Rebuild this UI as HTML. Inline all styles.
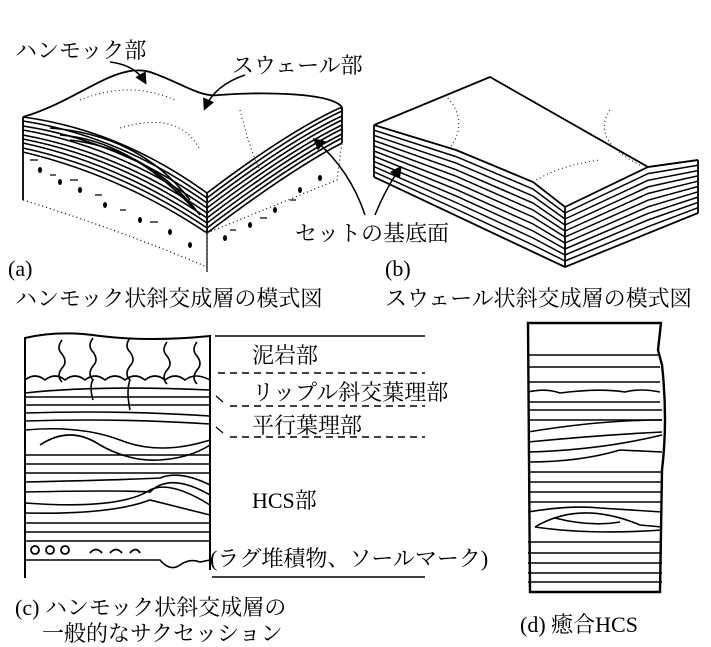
<!DOCTYPE html>
<html><head><meta charset="utf-8"><style>
html,body{margin:0;padding:0;background:#fff;}
svg{display:block;}
text{font-family:"Liberation Serif","Noto Serif CJK JP",serif;fill:#000;font-size:22px;}
</style></head><body>
<svg width="711" height="647" viewBox="0 0 711 647" xmlns="http://www.w3.org/2000/svg">
<defs><marker id="ah" markerWidth="8" markerHeight="8" refX="6" refY="4" orient="auto"><path d="M0,0 L8,4 L0,8 z" fill="#000"/></marker></defs>
<g fill="none" stroke="#000" stroke-width="1.8">
<!-- Block A lower dotted part -->
<path d="M23,152 L23,200 Q120,230 207,267 L207,233" stroke-dasharray="1,3" stroke-width="1.2"/>
<path d="M207,233 L337,180 L342,143" stroke-dasharray="1,3" stroke-width="1.2"/>
<line x1="207" y1="233" x2="207" y2="272" stroke-width="1.2"/>
<g fill="#000" stroke="none">
<ellipse cx="40" cy="170" rx="2" ry="3"/><ellipse cx="60" cy="182" rx="2" ry="3"/><ellipse cx="80" cy="190" rx="2" ry="3"/><ellipse cx="105" cy="205" rx="2" ry="3"/><ellipse cx="140" cy="220" rx="2" ry="3"/><ellipse cx="170" cy="232" rx="2" ry="3"/><ellipse cx="190" cy="245" rx="2" ry="3"/><ellipse cx="225" cy="238" rx="2" ry="3"/><ellipse cx="250" cy="225" rx="2" ry="3"/><ellipse cx="275" cy="210" rx="2" ry="3"/><ellipse cx="300" cy="190" rx="2" ry="3"/><ellipse cx="320" cy="178" rx="2" ry="3"/>
</g>
<path d="M30,160 h8 M50,175 h6 M70,180 h8 M95,195 h7 M120,210 h6 M150,222 h8 M230,230 h6 M260,218 h7 M290,200 h6" stroke-width="1.2"/>
<!-- Block A left face strata -->
<g stroke-width="1.6">
<path d="M23,117 Q120,130 207,193"/>
<path d="M23,121 Q120,136 207,198"/>
<path d="M23,126 Q120,141 207,203"/>
<path d="M23,130 Q120,147 207,208"/>
<path d="M23,135 Q120,153 207,213"/>
<path d="M23,139 Q120,158 207,218"/>
<path d="M23,143 Q120,164 207,223"/>
<path d="M23,148 Q120,169 207,228"/>
<path d="M23,152 Q120,175 207,233"/>
<path d="M60,135 Q130,140 195,210 M50,128 Q140,135 190,200 M70,140 Q150,150 200,215"/>
<path d="M207,193 Q290,130 342,107"/>
<path d="M207,198 Q290,135 342,111"/>
<path d="M207,203 Q290,140 342,116"/>
<path d="M207,208 Q290,145 342,120"/>
<path d="M207,213 Q290,150 342,125"/>
<path d="M207,218 Q290,155 342,129"/>
<path d="M207,223 Q290,160 342,134"/>
<path d="M207,228 Q290,165 342,138"/>
<path d="M207,233 Q290,170 342,143"/>
</g>
<line x1="23" y1="117" x2="23" y2="200"/>
<line x1="207" y1="193" x2="207" y2="233"/>
<line x1="342" y1="107" x2="342" y2="143"/>
<!-- Block A top surface -->
<path d="M23,117 C80,100 115,62 150,72 C180,82 200,98 219,95 C260,92 330,92 342,107" fill="#fff"/>
<path d="M80,100 Q130,80 175,100 M120,128 Q180,110 200,150 M240,110 Q250,150 260,170" stroke-dasharray="1,3" stroke-width="1"/>
<!-- arrows -->
<path d="M110,62 Q135,65 145,82" marker-end="url(#ah)" stroke-width="1.5"/>
<path d="M245,75 Q215,85 205,108" marker-end="url(#ah)" stroke-width="1.5"/>
<path d="M365,215 Q350,170 315,140" marker-end="url(#ah)" stroke-width="1.5"/>
<path d="M375,215 Q385,190 400,168" marker-end="url(#ah)" stroke-width="1.5"/>
<!-- Block B -->
<path d="M374,125 L490,77 L648,167 L698,160"/>
<path d="M374,125 L456,150 L533,182 L565,207 L648,167 L698,160"/>
<path d="M445,95 Q470,120 450,148 M610,110 Q590,140 640,165 M533,182 Q560,165 600,160" stroke-dasharray="1,3" stroke-width="1"/>
<line x1="374" y1="125" x2="374" y2="177"/>
<line x1="565" y1="207" x2="565" y2="267"/>
<line x1="698" y1="160" x2="698" y2="213"/>
<path d="M374,177 L565,267 L698,213"/>
<g stroke-width="1.5">
<polyline points="374,130.2 456,156.6 533,189 565,213"/>
<polyline points="374,135.4 456,163.1 533,196 565,219"/>
<polyline points="374,140.6 456,169.7 533,203 565,225"/>
<polyline points="374,145.8 456,176.2 533,210 565,231"/>
<polyline points="374,151 456,182.8 533,217 565,237"/>
<polyline points="374,156.2 456,189.4 533,224 565,243"/>
<polyline points="374,161.4 456,195.9 533,231 565,249"/>
<polyline points="374,166.6 456,202.5 533,238 565,255"/>
<polyline points="374,171.8 456,209 533,245 565,261"/>
<polyline points="565,213 648,173.6 698,165.3"/>
<polyline points="565,219 648,180.3 698,170.6"/>
<polyline points="565,225 648,186.9 698,175.9"/>
<polyline points="565,231 648,193.5 698,181.2"/>
<polyline points="565,237 648,200.2 698,186.5"/>
<polyline points="565,243 648,206.8 698,191.8"/>
<polyline points="565,249 648,213.4 698,197.1"/>
<polyline points="565,255 648,220 698,202.4"/>
<polyline points="565,261 648,226.7 698,207.7"/>
</g>
<!-- Column C -->
<path d="M25,578 L25,338 Q60,330 100,336 Q150,342 210,336 L210,570" stroke-width="2"/>
<path d="M62,340 q-6,8 0,14 q6,8 0,14 q-6,8 0,14 M93,338 q-6,8 0,14 q6,8 0,14 q-6,8 0,14 q-4,6 0,20 M130,338 q-6,8 0,14 q6,8 0,14 q-6,8 0,14 q-4,10 0,30 M167,342 q-6,8 0,14 q6,8 0,14 q-6,8 0,14 M197,342 q-6,8 0,14 q6,8 0,14 q-6,8 0,14" stroke-width="1.6"/>
<path d="M25,380 q10,-8 20,0 q10,-8 20,0 q10,-8 20,0 q10,-8 20,0 q10,-8 20,0 q10,-8 20,0 q10,-8 20,0 q10,-8 20,0 q10,-8 25,0" stroke-width="1.6"/>
<path d="M25,393 Q100,385 210,390" stroke-width="1.6"/>
<g stroke-width="1.6">
<path d="M25,397 H210"/><path d="M25,405 H210"/><path d="M25,413 Q120,410 210,416"/><path d="M25,421 Q120,418 210,424"/>
<path d="M25,430 Q80,425 120,440 Q160,456 210,440"/>
<path d="M40,445 Q70,425 100,445 Q130,462 160,460 Q190,458 210,445"/>
<path d="M25,455 H210"/><path d="M25,464 H210"/><path d="M25,473 H210"/>
<path d="M25,482 Q120,480 160,478 Q180,470 210,485"/>
<path d="M25,492 Q120,490 150,492 Q170,472 210,495"/>
<path d="M25,503 Q120,510 150,490 Q170,480 210,505"/>
<path d="M25,513 Q110,515 150,500 L210,515"/>
<path d="M25,523 H210"/><path d="M25,532 H210"/><path d="M25,541 H210"/>
<path d="M25,560 H160 Q170,572 180,565 Q190,558 200,562 L210,560"/>
</g>
<circle cx="35" cy="550" r="4"/><circle cx="50" cy="550" r="4"/><circle cx="65" cy="550" r="4"/>
<path d="M90,553 q6,-7 12,0 M110,553 q6,-7 12,0 M130,553 q6,-7 10,0"/>
<!-- label lines -->
<line x1="215" y1="336" x2="425" y2="336" stroke-width="1.5"/>
<line x1="218" y1="373" x2="425" y2="373" stroke-dasharray="7,5" stroke-width="1.5"/>
<line x1="230" y1="406" x2="425" y2="406" stroke-dasharray="7,5" stroke-width="1.5"/>
<line x1="230" y1="437" x2="425" y2="437" stroke-dasharray="7,5" stroke-width="1.5"/>
<line x1="212" y1="577" x2="425" y2="577" stroke-width="1.5"/>
<path d="M216,396 l7,6 M216,427 l7,6" stroke-width="1.2"/>
<!-- Column D -->
<path d="M528,323 L661,323 L658,350 L662,365 Q668,420 662,470 L660,592 L530,592 L528,323 Z" stroke-width="2.4"/>
<g stroke-width="1.6">
<path d="M528,355 H658"/><path d="M528,367 H660"/><path d="M528,382 H660"/>
<path d="M528,392 Q545,388 560,393 Q600,388 625,392 Q640,388 660,392"/>
<path d="M528,402 H660"/><path d="M528,410 H662"/><path d="M528,420 H662"/>
<path d="M528,432 Q600,420 662,420"/>
<path d="M528,442 Q600,435 662,432"/>
<path d="M528,452 Q600,450 662,435"/>
<path d="M528,462 Q580,462 620,450 L662,452"/>
<path d="M528,472 H662"/><path d="M528,482 H662"/><path d="M528,492 H662"/><path d="M528,502 H662"/>
<path d="M528,512 Q570,505 600,508 L662,512"/>
<path d="M535,527 Q580,500 640,525 L662,527"/>
<path d="M555,518 Q590,527 620,522"/>
<path d="M535,527 Q590,535 662,530"/>
<path d="M528,542 H662"/><path d="M528,553 H662"/><path d="M528,563 H662"/><path d="M528,573 H662"/><path d="M528,582 H662"/>
</g>
</g>
<text x="15" y="58">ハンモック部</text>
<text x="232" y="73">スウェール部</text>
<text x="295" y="241">セットの基底面</text>
<text x="8" y="276">(a)</text>
<text x="385" y="276">(b)</text>
<text x="15" y="306">ハンモック状斜交成層の模式図</text>
<text x="385" y="306">スウェール状斜交成層の模式図</text>
<text x="252" y="363">泥岩部</text>
<text x="252" y="400">リップル斜交葉理部</text>
<text x="252" y="433">平行葉理部</text>
<text x="252" y="508">HCS部</text>
<text x="210" y="566">(ラグ堆積物、ソールマーク)</text>
<text x="15" y="615">(c) ハンモック状斜交成層の</text>
<text x="42" y="641">一般的なサクセッション</text>
<text x="520" y="632">(d) 癒合HCS</text>
</svg>
</body></html>
